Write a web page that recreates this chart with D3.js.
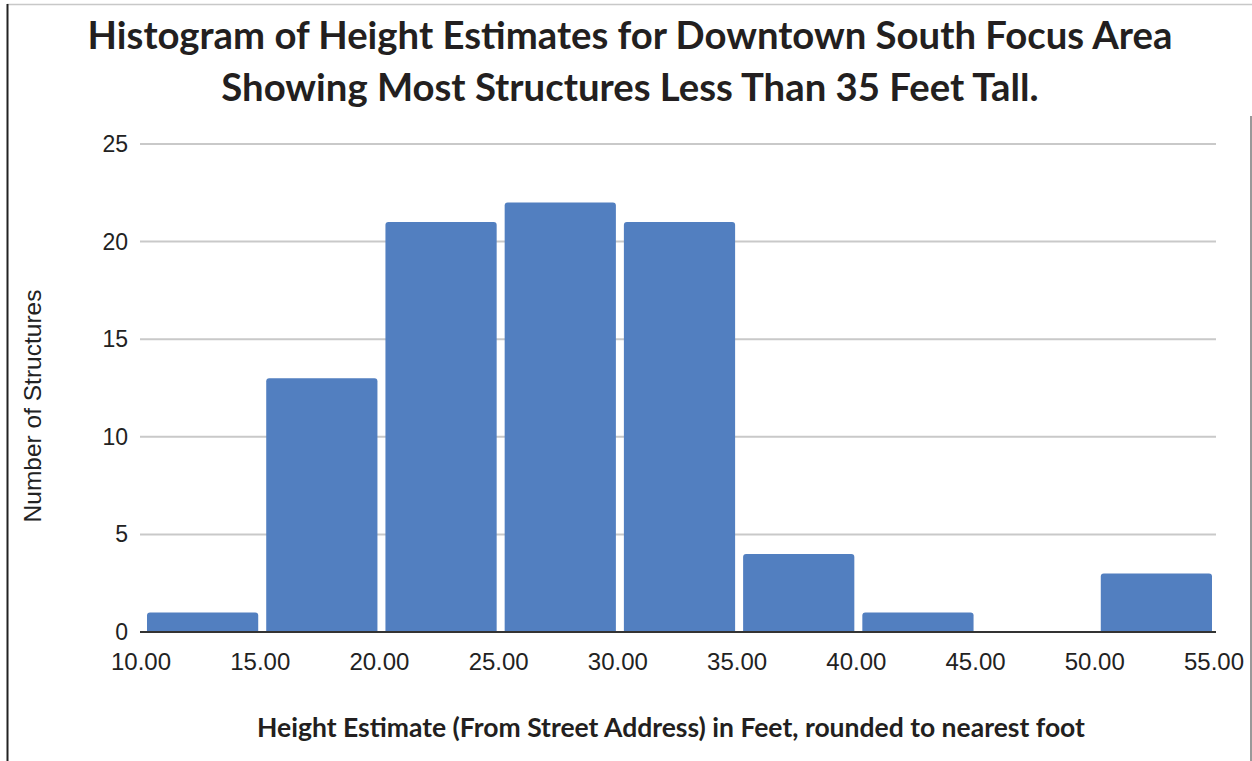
<!DOCTYPE html>
<html>
<head>
<meta charset="utf-8">
<script src="https://cdn.jsdelivr.net/npm/d3@7"></script>
<style>
  body { margin: 0; background: #fff; }
  svg { display: block; }
</style>
</head>
<body>
<div id="chart"></div>
<script>
// bin start values (feet) and counts per 5 ft bin
var binStarts = [10, 15, 20, 25, 30, 35, 40, 45, 50];
var counts = [1, 13, 21, 22, 21, 4, 1, 0, 3];
var xTicks = [10, 15, 20, 25, 30, 35, 40, 45, 50, 55];
var yTicks = [0, 5, 10, 15, 20, 25];
var titleLines = ["Histogram of Height Estimates for Downtown South Focus Area",
                  "Showing Most Structures Less Than 35 Feet Tall."];
var xTitle = "Height Estimate (From Street Address) in Feet, rounded to nearest foot";
var yTitle = "Number of Structures";

var width = 1252, height = 761;
var plotLeft = 143, plotRight = 1216, plotTop = 144, plotBottom = 632;
var barColor = "#527fc0";

var bins = binStarts.map(function(s, i) { return { start: s, count: counts[i] }; });

var svg = d3.select("#chart").append("svg")
  .attr("width", width)
  .attr("height", height);

// page frame pieces
svg.append("line").attr("x1", 7).attr("x2", width).attr("y1", 4.5).attr("y2", 4.5)
  .attr("stroke", "#c8c8c8").attr("stroke-width", 1.5);
svg.append("line").attr("x1", 7.5).attr("x2", 7.5).attr("y1", 4).attr("y2", height)
  .attr("stroke", "#222").attr("stroke-width", 2);
svg.append("line").attr("x1", 1251).attr("x2", 1251).attr("y1", 116).attr("y2", height)
  .attr("stroke", "#777").attr("stroke-width", 1.5);

var x = d3.scaleLinear().domain([10, 55]).range([plotLeft, plotRight]);
var y = d3.scaleLinear().domain([0, 25]).range([plotBottom, plotTop]);

// gridlines
svg.append("g").selectAll("line").data(yTicks.filter(function(d) { return d > 0; }))
  .enter().append("line")
  .attr("x1", 140).attr("x2", plotRight)
  .attr("y1", function(d) { return y(d); })
  .attr("y2", function(d) { return y(d); })
  .attr("stroke", "#c9c9c9")
  .attr("stroke-width", 2);

// bars with small rounded tops
var r = 3, inset = 4;
svg.append("g").selectAll("path")
  .data(bins.filter(function(b) { return b.count > 0; }))
  .enter().append("path")
  .attr("fill", barColor)
  .attr("d", function(b) {
    var x0 = x(b.start) + inset, x1 = x(b.start + 5) - inset;
    var y0 = y(b.count), yb = y(0);
    return "M" + x0 + "," + yb + "V" + (y0 + r) + "Q" + x0 + "," + y0 + " " + (x0 + r) + "," + y0 +
      "H" + (x1 - r) + "Q" + x1 + "," + y0 + " " + x1 + "," + (y0 + r) + "V" + yb + "Z";
  });

// baseline
svg.append("line").attr("x1", 140).attr("x2", plotRight).attr("y1", plotBottom).attr("y2", plotBottom)
  .attr("stroke", "#333").attr("stroke-width", 2);

// y tick labels
svg.append("g").selectAll("text").data(yTicks)
  .enter().append("text")
  .attr("x", 128)
  .attr("y", function(d) { return y(d) + 8; })
  .attr("text-anchor", "end")
  .attr("font-family", "Liberation Sans, Arial, sans-serif")
  .attr("font-size", 23)
  .attr("fill", "#222")
  .text(function(d) { return d; });

// x tick labels
svg.append("g").selectAll("text").data(xTicks)
  .enter().append("text")
  .attr("x", function(d) { return x(d) - 2; })
  .attr("y", 670)
  .attr("text-anchor", "middle")
  .attr("font-family", "Liberation Sans, Arial, sans-serif")
  .attr("font-size", 24)
  .attr("fill", "#222")
  .text(function(d) { return d3.format(".2f")(d); });

// title
svg.append("g").selectAll("text").data(titleLines)
  .enter().append("text")
  .attr("x", 630)
  .attr("y", function(d, i) { return 49 + i * 52; })
  .attr("text-anchor", "middle")
  .attr("font-family", "Lato, sans-serif")
  .attr("font-weight", "bold")
  .attr("font-size", 38.3)
  .attr("fill", "#231f20")
  .text(function(d) { return d; });

// axis titles
svg.append("text")
  .attr("x", 671).attr("y", 737)
  .attr("text-anchor", "middle")
  .attr("font-family", "Lato, sans-serif")
  .attr("font-weight", "bold")
  .attr("font-size", 26.5)
  .attr("fill", "#231f20")
  .text(xTitle);

svg.append("text")
  .attr("transform", "translate(41,406) rotate(-90)")
  .attr("text-anchor", "middle")
  .attr("font-family", "Liberation Sans, Arial, sans-serif")
  .attr("font-size", 24.5)
  .attr("fill", "#222")
  .text(yTitle);
</script>
</body>
</html>
